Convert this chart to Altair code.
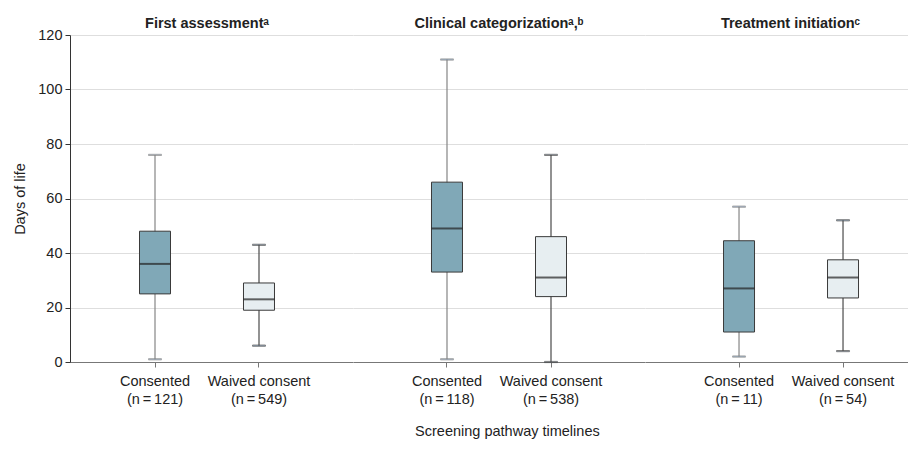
import altair as alt
import pandas as pd

groups = ["First assessment", "Clinical categorization", "Treatment initiation"]
group_marks = ["ᵃ", "ᵃ,ᵇ", "ᶜ"]
consent_types = ["Consented", "Waived consent"]
n_counts = [[121, 549], [118, 538], [11, 54]]
mins = [[1, 6], [1, 0], [2, 4]]
q1s = [[25, 19], [33, 24], [11, 23.5]]
medians = [[36, 23], [49, 31], [27, 31]]
q3s = [[48, 29], [66, 46], [44.5, 37.5]]
maxs = [[76, 43], [111, 76], [57, 52]]
y_ticks = [0, 20, 40, 60, 80, 100, 120]

rows = []
for gi, g in enumerate(groups):
    for ci, c in enumerate(consent_types):
        rows.append({
            "group": g,
            "consent": c,
            "label": f"{c}\n(n\u2009=\u2009{n_counts[gi][ci]})",
            "min": mins[gi][ci],
            "q1": q1s[gi][ci],
            "median": medians[gi][ci],
            "q3": q3s[gi][ci],
            "max": maxs[gi][ci],
        })
df = pd.DataFrame(rows)

FONT = "Liberation Sans, Arial, sans-serif"
FILLS = ["#80a8b7", "#e7eef1"]
WHISK = ["#858585", "#4a4a4a"]

widths = [283, 292, 263]
pad_outer = [0.3606, 0.4038, 0.2644]
aligns = [0.44, 0.5, 0.764]
title_dx = [-4.5, 0, 14]
title_offset = [-4, 4, 4]

yscale = alt.Scale(domain=[0, 120], nice=False)
no_stroke_view = alt.ViewBackground(strokeWidth=0, strokeOpacity=0)


def panel(i):
    d = df[df["group"] == groups[i]]
    if i == 0:
        yaxis = alt.Axis(title="Days of life", values=y_ticks, grid=True, domain=True,
                         ticks=True, tickSize=5, domainColor="#333", tickColor="#333",
                         labelPadding=3, titlePadding=10, titleFontWeight="normal",
                         titleFontSize=14.5, titleColor="#222")
    else:
        yaxis = alt.Axis(title=None, values=y_ticks, grid=True, domain=False,
                         ticks=False, labels=False)
    xenc = alt.X("label:N", sort=list(d["label"]),
                 scale=alt.Scale(paddingInner=0, paddingOuter=pad_outer[i], align=aligns[i]),
                 axis=alt.Axis(title=None, labelAngle=0,
                               labelExpr="split(datum.label, '\\n')",
                               labelLineHeight=18, labelPadding=7, tickSize=5,
                               domainColor="#777", tickColor="#777", grid=False))
    base = alt.Chart(d).encode(x=xenc)
    stroke_enc = alt.Stroke("consent:N", scale=alt.Scale(domain=consent_types, range=WHISK), legend=None)
    whisker = base.mark_rule(strokeWidth=1.2).encode(
        y=alt.Y("min:Q", scale=yscale, axis=yaxis),
        y2="max:Q",
        stroke=stroke_enc,
    )
    box = base.mark_bar(size=31, stroke="#3a3a3a", strokeWidth=1).encode(
        y=alt.Y("q1:Q", scale=yscale, axis=yaxis),
        y2="q3:Q",
        fill=alt.Fill("consent:N", scale=alt.Scale(domain=consent_types, range=FILLS), legend=None),
    )
    med = base.mark_tick(size=31, thickness=2, color="#222").encode(
        y=alt.Y("median:Q", scale=yscale, axis=yaxis))
    cap_lo = base.mark_tick(size=13, thickness=1.2).encode(
        y=alt.Y("min:Q", scale=yscale, axis=yaxis), stroke=stroke_enc)
    cap_hi = base.mark_tick(size=13, thickness=1.2).encode(
        y=alt.Y("max:Q", scale=yscale, axis=yaxis), stroke=stroke_enc)
    return alt.layer(whisker, box, med, cap_lo, cap_hi).properties(
        width=widths[i], height=327, view=no_stroke_view,
        title=alt.TitleParams(groups[i] + group_marks[i], fontSize=14.5, fontWeight="bold",
                              dx=title_dx[i], offset=title_offset[i], anchor="middle", color="#222"),
    )


chart = alt.hconcat(*[panel(i) for i in range(3)], spacing=0).properties(
    title=alt.TitleParams("Screening pathway timelines", orient="bottom", anchor="middle",
                          fontSize=14.5, fontWeight="normal", offset=19, color="#222", dx=47),
    padding={"left": 4, "top": 7, "right": 0, "bottom": 5},
).configure_view(strokeWidth=0, strokeOpacity=0).configure(font=FONT).configure_axis(
    labelFont=FONT, labelFontSize=14.5, labelColor="#222", titleFont=FONT,
    gridColor="#dedede", gridWidth=1,
).configure_title(font=FONT)

chart.save("out.html", embed_options={"renderer": "svg", "actions": False})
